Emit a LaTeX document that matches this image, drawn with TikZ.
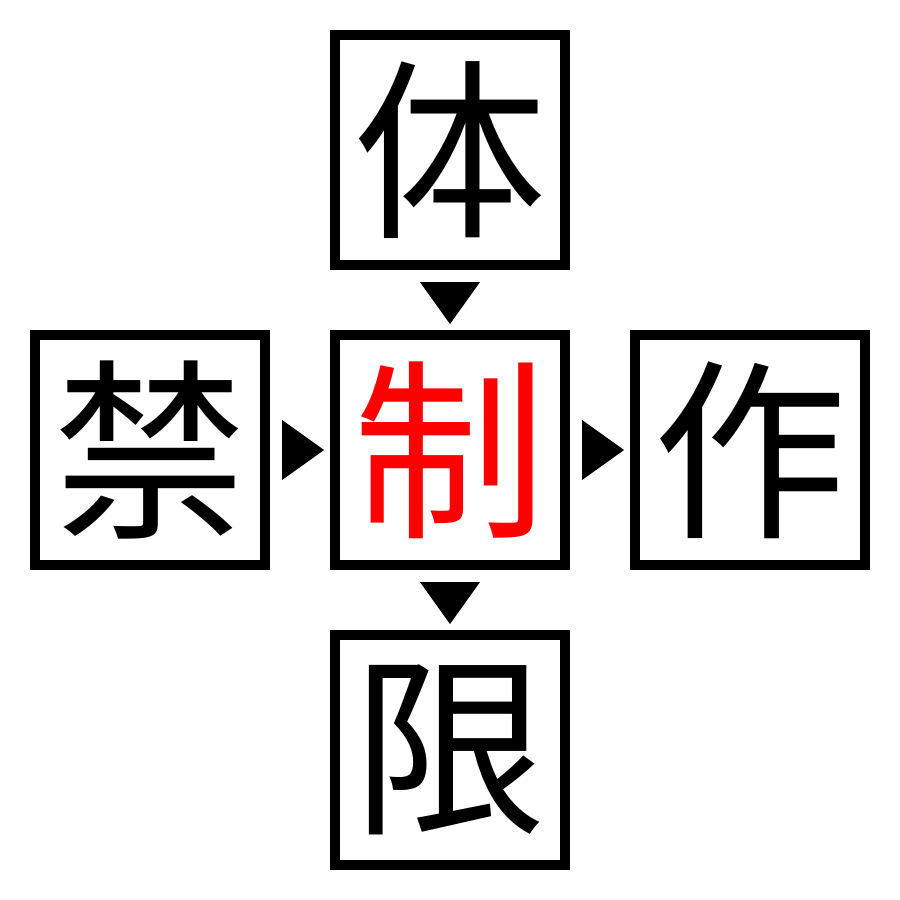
\documentclass[tikz,border=0pt]{standalone}
\usepackage{fontspec}
\newfontfamily\cjk{Noto Sans CJK JP}
\usetikzlibrary{calc}
\tikzset{
  kbox/.style={draw=black, line width=0.1cm, minimum size=2.3cm, inner sep=0pt,
    outer sep=0pt, font=\cjk\fontsize{55}{55}\selectfont, fill=white},
  tri/.style={fill=black, draw=none}
}
\begin{document}
\begin{tikzpicture}[x=0.01cm, y=-0.01cm]
\useasboundingbox[fill=white] (0,0) rectangle (900,900);
\node[kbox] (top) at (450,150) {体};
\node[kbox] (left) at (150,450) {禁};
\node[kbox, text=red] (mid) at (450,450) {制};
\node[kbox] (right) at (750,450) {作};
\node[kbox] (bot) at (450,750) {限};
% arrowheads between boxes
\fill[tri] ($(top.south)+(-30,17)$) -- ($(top.south)+(30,17)$) -- ($(top.south)+(0,59)$) -- cycle;
\fill[tri] ($(mid.south)+(-30,17)$) -- ($(mid.south)+(30,17)$) -- ($(mid.south)+(0,59)$) -- cycle;
\fill[tri] ($(left.east)+(17,-30)$) -- ($(left.east)+(17,30)$) -- ($(left.east)+(59,0)$) -- cycle;
\fill[tri] ($(mid.east)+(17,-30)$) -- ($(mid.east)+(17,30)$) -- ($(mid.east)+(59,0)$) -- cycle;
\end{tikzpicture}
\end{document}
